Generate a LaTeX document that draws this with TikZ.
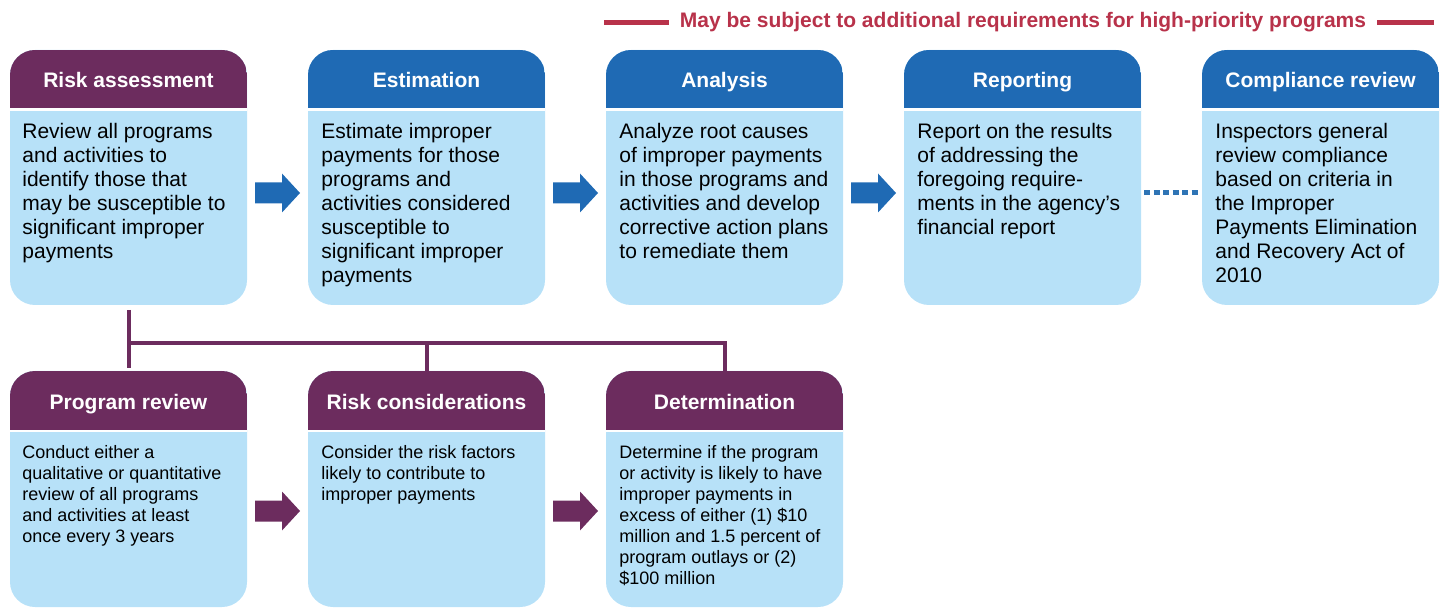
\documentclass[tikz,border=0pt]{standalone}
\usepackage{fontspec}
\setmainfont{Liberation Sans}
\definecolor{hpurple}{HTML}{6C2C5E}
\definecolor{hblue}{HTML}{1F6AB4}
\definecolor{bodyc}{HTML}{B7E1F8}
\definecolor{noter}{HTML}{B8324A}
\definecolor{dotb}{HTML}{2E74B5}
\tikzset{
  box/.style={draw=none, fill=bodyc, rounded corners=12.5pt, inner sep=0pt, outer sep=0pt,
    minimum width=118.5pt,
    path picture={\fill[#1,sharp corners] (path picture bounding box.north west) rectangle ([yshift=-29.25pt]path picture bounding box.north east);
      \fill[white,sharp corners] ([yshift=-29.25pt]path picture bounding box.north west) rectangle ([yshift=-30.5pt]path picture bounding box.north east);}},
  toprow/.style={box=#1, minimum height=127.5pt},
  botrow/.style={box=#1, minimum height=118pt},
  headtext/.style={text=white, font=\fontsize{10.5}{12}\selectfont\bfseries, anchor=base, inner sep=0pt},
  bigtext/.style={font=\fontsize{10.5}{12}\selectfont, align=left, anchor=north west, inner sep=0pt},
  smalltext/.style={font=\fontsize{9}{10.5}\selectfont, align=left, anchor=north west, inner sep=0pt},
  tree/.style={draw=hpurple, line width=2pt},
  barrow/.pic={\fill[#1] (-22.5,-10.5) -- (4.5,-10.5) -- (4.5,-19.5) -- (22.5,0) -- (4.5,19.5) -- (4.5,10.5) -- (-22.5,10.5) -- cycle;},
  redline/.style={draw=noter, line width=2.5pt},
  dots/.style={draw=dotb, line width=2.5pt, dash pattern=on 3pt off 1.75pt}
}
\begin{document}
\begin{tikzpicture}[x=0.5pt,y=-0.5pt]
\useasboundingbox (0,0) rectangle (1443,608);
% top row
\node[toprow=hpurple] (b1) at (128.5,177.5) {};
\node[toprow=hblue] (b2) at (426.5,177.5) {};
\node[toprow=hblue] (b3) at (724.5,177.5) {};
\node[toprow=hblue] (b4) at (1022.5,177.5) {};
\node[toprow=hblue] (b5) at (1320.5,177.5) {};
\node[headtext] (h1) at (128.5,88) {Risk assessment};
\node[headtext] (h2) at (426.5,88) {Estimation};
\node[headtext] (h3) at (724.5,88) {Analysis};
\node[headtext] (h4) at (1022.5,88) {Reporting};
\node[headtext] (h5) at (1320.5,88) {Compliance review};
\node[bigtext] (t1) at (22,123) {Review all programs\\and activities to\\identify those that\\may be susceptible to\\significant improper\\payments};
\node[bigtext] (t2) at (321,123) {Estimate improper\\payments for those\\programs and\\activities considered\\susceptible to\\significant improper\\payments};
\node[bigtext] (t3) at (619,123) {Analyze root causes\\of improper payments\\in those programs and\\activities and develop\\corrective action plans\\to remediate them};
\node[bigtext] (t4) at (917,123) {Report on the results\\of addressing the\\foregoing require-\\ments in the agency’s\\financial report};
\node[bigtext] (t5) at (1215,123) {Inspectors general\\review compliance\\based on criteria in\\the Improper\\Payments Elimination\\and Recovery Act of\\2010};
% bottom row
\node[botrow=hpurple] (p1) at (128.5,489) {};
\node[botrow=hpurple] (p2) at (426.5,489) {};
\node[botrow=hpurple] (p3) at (724.5,489) {};
\node[headtext] (q1) at (128.5,409) {Program review};
\node[headtext] (q2) at (426.5,409) {Risk considerations};
\node[headtext] (q3) at (724.5,409) {Determination};
\node[smalltext] (s1) at (22,445) {Conduct either a\\qualitative or quantitative\\review of all programs\\and activities at least\\once every 3 years};
\node[smalltext] (s2) at (321,445) {Consider the risk factors\\likely to contribute to\\improper payments};
\node[smalltext] (s3) at (619,445) {Determine if the program\\or activity is likely to have\\improper payments in\\excess of either (1) \$10\\million and 1.5 percent of\\program outlays or (2)\\\$100 million};
% arrows
\pic at (277.5,193) {barrow=hblue};
\pic at (575.5,193) {barrow=hblue};
\pic at (873.5,193) {barrow=hblue};
\pic at (277.5,511) {barrow=hpurple};
\pic at (575.5,511) {barrow=hpurple};
% dotted
\coordinate (d1) at (1144,193);
\coordinate (d2) at (1199,193);
\draw[dots] (d1) -- (d2);
% tree
\coordinate (j) at (128.5,343);
\draw[tree] ([yshift=-2.5pt]b1.south) -- ([yshift=1.5pt]p1.north);
\draw[tree] (j) -| (p2.north);
\draw[tree] (j) -| (p3.north);
% note
\node[text=noter, font=\fontsize{10.5}{12}\selectfont\bfseries, inner sep=5.5pt] (note) at (1023,22) {May be subject to additional requirements for high-priority programs};
\coordinate (rl) at (604,23);
\coordinate (rr) at (1434,23);
\draw[redline] (rl) -- (rl -| note.west);
\draw[redline] (rr -| note.east) -- (rr);
\end{tikzpicture}
\end{document}
